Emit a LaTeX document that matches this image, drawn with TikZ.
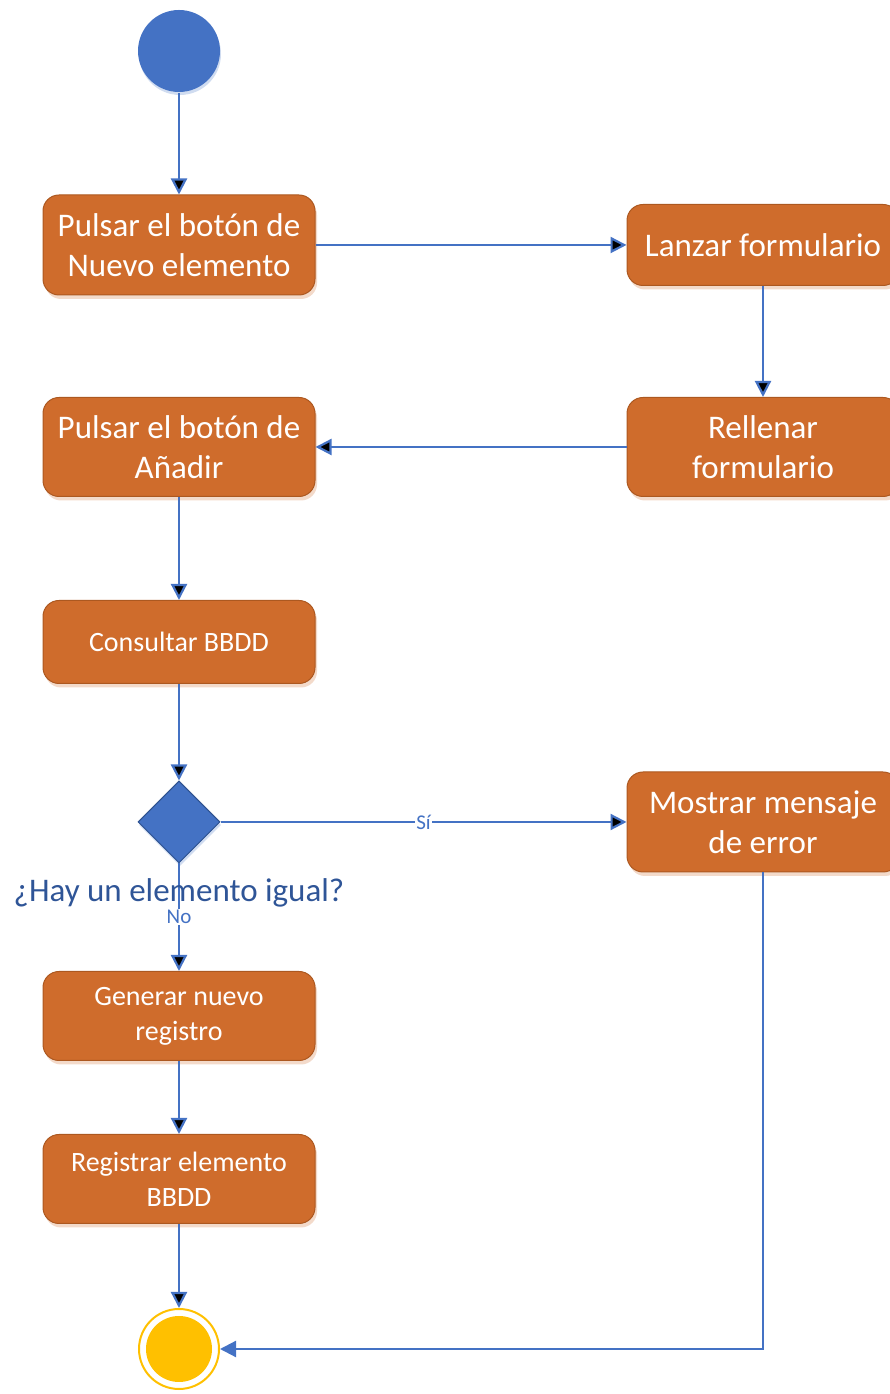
\documentclass[tikz,border=0pt]{standalone}
\usepackage{fontspec}
\setmainfont{Carlito}
\usetikzlibrary{positioning, shapes.geometric, arrows.meta, shadows}

\definecolor{naranja}{RGB}{207,108,44}
\definecolor{naranjaborde}{RGB}{172,88,32}
\definecolor{azul}{RGB}{68,114,196}
\definecolor{azuloscuro}{RGB}{47,82,143}
\definecolor{textoazul}{RGB}{47,85,151}
\definecolor{amarillo}{RGB}{255,192,0}

\begin{document}
\begin{tikzpicture}[x=1pt, y=1pt, >={Triangle[length=16pt,width=16pt]}, on grid,
					line width=2.2pt,
					actividad/.style={rectangle, rounded corners=16pt, fill=naranja, draw=naranjaborde,
						line width=1pt, text=white, minimum width=272pt, align=center,
						font=\fontsize{33}{40}\selectfont,
						general shadow={fill=naranja!25, shadow xshift=2pt, shadow yshift=-4pt}},
					actividadp/.style={actividad, font=\fontsize{28}{35}\selectfont},
					etiqueta/.style={fill=white, inner sep=1pt, text=azul, font=\fontsize{21}{22}\selectfont},
					flujo/.style={->, draw=azul}]
	\useasboundingbox (0,0) rectangle (890,1394);
	
	\node[circle, fill=azul, minimum size=82pt, inner sep=0pt,
		general shadow={fill=azul!25, shadow xshift=1pt, shadow yshift=-3pt}] (inicio) at (179,1343) {};
	\node[actividad, minimum height=100pt] (pulsarNuevo) [below=194pt of inicio] {Pulsar el botón de\\Nuevo elemento};
	\node[actividad, minimum height=81pt]  (lanzar)      [right=584pt of pulsarNuevo] {Lanzar formulario};
	\node[actividad, minimum height=99pt]  (rellenar)    [below=202pt of lanzar] {Rellenar\\formulario};
	\node[actividad, minimum height=99pt]  (pulsarAnadir)[left=584pt of rellenar] {Pulsar el botón de\\Añadir};
	\node[actividadp, minimum height=83pt] (consultar)   [below=195pt of pulsarAnadir] {Consultar BBDD};
	\node[diamond, fill=azul, draw=azuloscuro, line width=1pt, minimum size=82pt, inner sep=0pt,
		general shadow={fill=azul!25, shadow xshift=1pt, shadow yshift=-3pt}] (decision) [below=180pt of consultar] {};
	\node[actividad, minimum height=100pt] (mostrar)     [right=584pt of decision] {Mostrar mensaje\\de error};
	\node[actividadp, minimum height=89pt] (generar)     [below=194pt of decision] {Generar nuevo\\registro};
	\node[actividadp, minimum height=89pt] (registrar)   [below=163pt of generar] {Registrar elemento\\BBDD};
	\node[circle, draw=amarillo, line width=2pt, minimum size=80pt, inner sep=0pt,
		path picture={\fill[amarillo] (path picture bounding box.center) circle (33pt);}] (fin) [below=170pt of registrar] {};
	
	%Transiciones
	\path[flujo] (inicio) edge (pulsarNuevo)
		(pulsarNuevo) edge (lanzar)
		(lanzar) edge (rellenar)
		(rellenar) edge (pulsarAnadir)
		(pulsarAnadir) edge (consultar)
		(consultar) edge (decision)
		(decision) edge node[etiqueta] {Sí} (mostrar)
		(decision) edge node[etiqueta] {No} (generar)
		(generar) edge (registrar)
		(registrar) edge (fin);
	\draw[flujo] (mostrar) |- (fin);
	\node[font=\fontsize{33}{38}\selectfont, text=textoazul] (pregunta) at (179,501) {¿Hay un elemento igual?};
\end{tikzpicture}
\end{document}
